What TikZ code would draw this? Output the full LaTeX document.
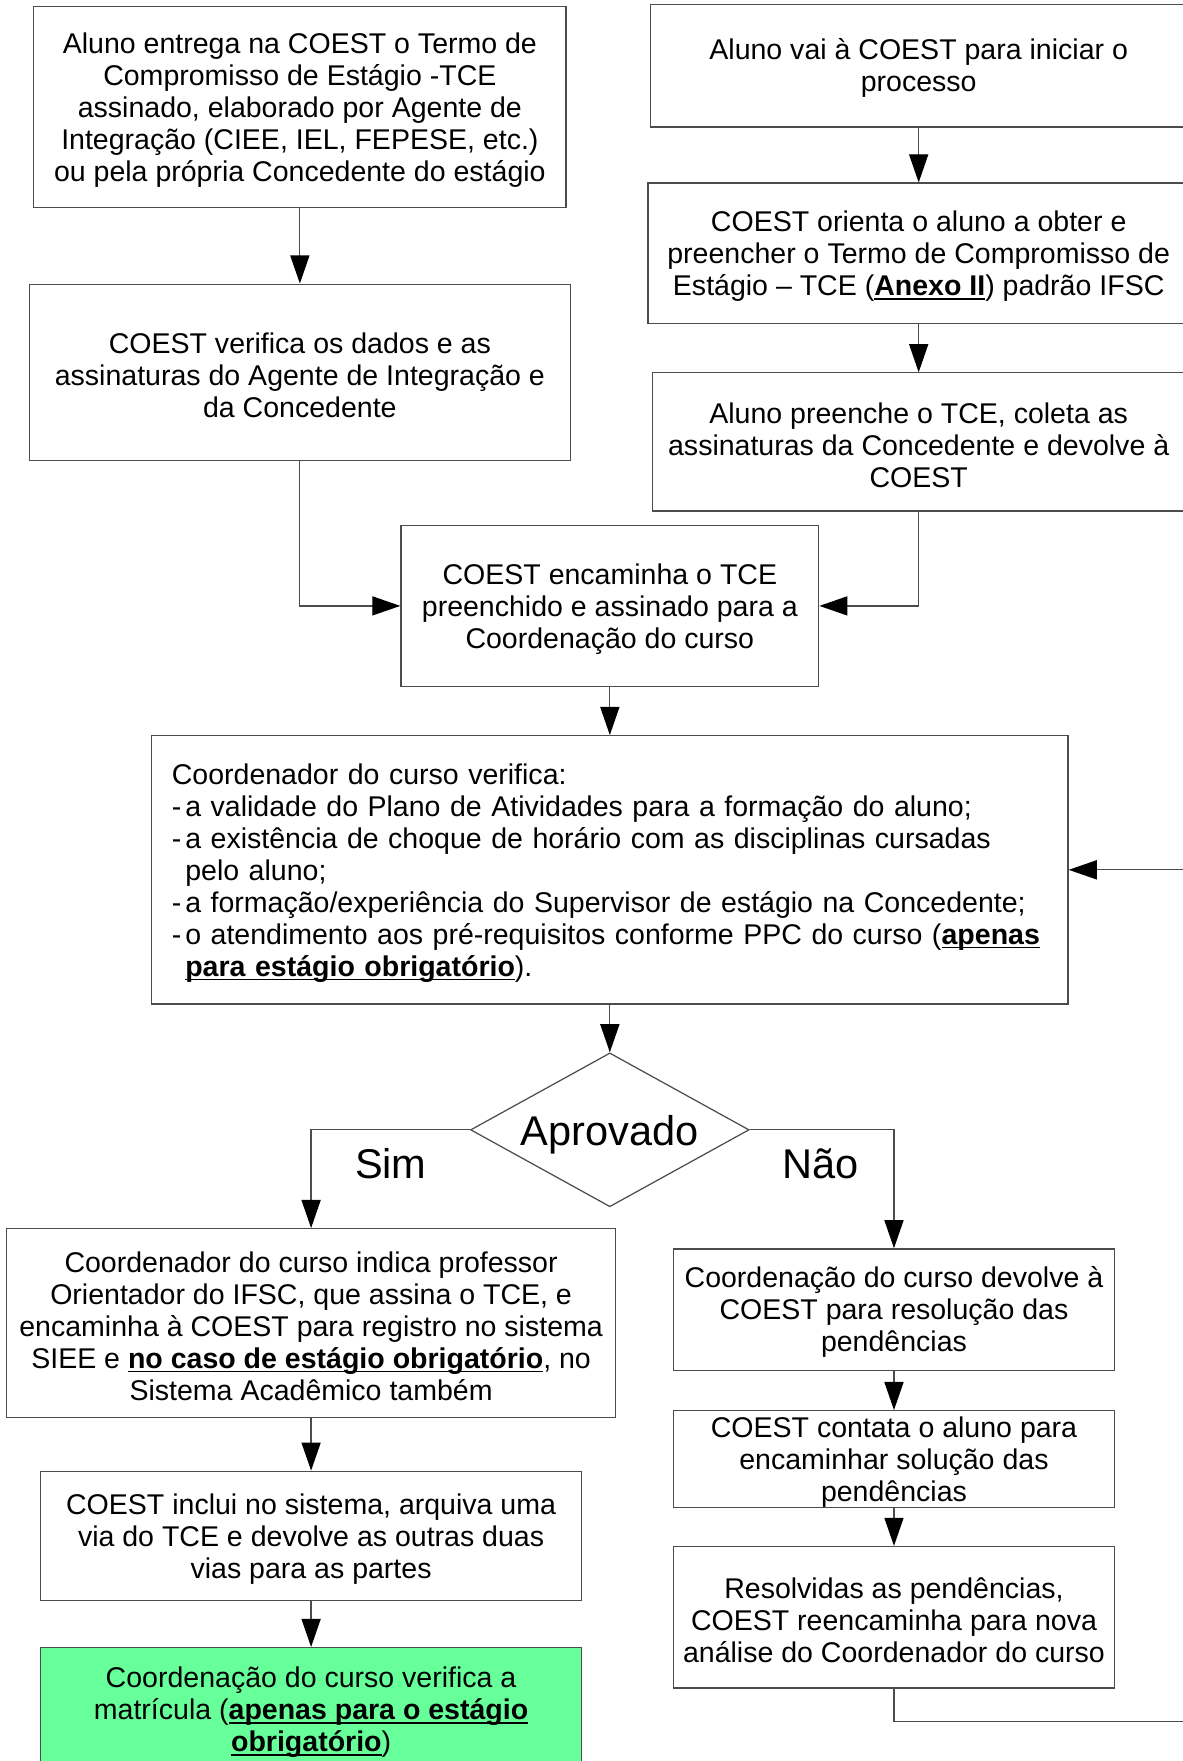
\documentclass[tikz,border=0pt]{standalone}
\usepackage{fontspec}
\setmainfont{Liberation Sans}
\usetikzlibrary{shapes.geometric,arrows.meta}
\newlength{\px}
\setlength{\px}{0.5pt}
\newsavebox{\boxdestaque}
\newcommand{\caixa}[7][]{%opts, name, x, y, width, height, text
  \node[etapa, #1, minimum width=#5*\px, minimum height=#6*\px] (#2) at (#3,#4) {\rule{0pt}{11.8pt}#7};
}
\newcommand{\traco}{\makebox[6pt][l]{-}}
\newcommand{\destaque}[1]{%bold, underlined just below the baseline
  \sbox{\boxdestaque}{\textbf{#1}}\rlap{\rule[-1.9pt]{\wd\boxdestaque}{0.7pt}}\usebox{\boxdestaque}}
\definecolor{verdeclaro}{RGB}{102,255,153}
\tikzset{
  etapa/.style={draw=black!70, line width=0.55pt, align=center, inner sep=0pt,
    font=\fontsize{12.7}{14.25}\selectfont},
  decisao/.style={diamond, aspect=1.8, draw=black!70, line width=0.55pt, inner sep=0pt,
    minimum width=248*\px, minimum height=137*\px, font=\fontsize{18.5}{20}\selectfont},
  rotulo/.style={inner sep=0pt, font=\fontsize{18.5}{20}\selectfont},
  seta/.style={draw=black!70, line width=0.55pt, -{Triangle[length=12.5pt,width=8.5pt,black]}},
}

\begin{document}
\begin{tikzpicture}[x=\px, y=-\px]
    \useasboundingbox (0,0) rectangle (1053,1568);
    %left column: TCE from Agente de Integracao
    \caixa{entrega}{267}{95.5}{474}{179}{Aluno entrega na COEST o Termo de\\
      Compromisso de Estágio -TCE\\ assinado, elaborado por Agente de\\
      Integração (CIEE, IEL, FEPESE, etc.)\\ ou pela própria Concedente do estágio}
    \caixa{verificaDados}{267}{331.5}{482}{157}{COEST verifica os dados e as\\
      assinaturas do Agente de Integração e\\ da Concedente}
    %right column: TCE padrao IFSC
    \caixa{inicio}{818}{58.5}{478}{109}{Aluno vai à COEST para iniciar o\\ processo}
    \caixa{orienta}{818}{225.5}{482}{125}{COEST orienta o aluno a obter e\\
      preencher o Termo de Compromisso de\\ Estágio – TCE (\destaque{Anexo II}) padrão IFSC}
    \caixa{preenche}{818}{393.5}{474}{123}{Aluno preenche o TCE, coleta as\\
      assinaturas da Concedente e devolve à\\ COEST}
    %both columns meet here
    \caixa{encaminha}{543}{539.5}{372}{143}{COEST encaminha o TCE\\
      preenchido e assinado para a\\ Coordenação do curso}
    \caixa[align=left, text width=390pt]{coordenador}{543}{774.5}{816}{239}{Coordenador do curso verifica:\\
      \traco a validade do Plano de Atividades para a formação do aluno;\\
      \traco a existência de choque de horário com as disciplinas cursadas\\
      \hspace*{6pt}pelo aluno;\\
      \traco a formação/experiência do Supervisor de estágio na Concedente;\\
      \traco o atendimento aos pré-requisitos conforme PPC do curso (\destaque{apenas}\\
      \hspace*{6pt}\destaque{para estágio obrigatório}).}
    %decision
    \node[decisao] (aprovado) at (543,1006) {\raisebox{-2pt}[\height][\depth]{Aprovado}};
    \node[rotulo] (sim) at (348,1036) {Sim};
    \node[rotulo] (nao) at (731,1036) {Não};
    %approved branch
    \caixa{indica}{277}{1178}{542}{168}{Coordenador do curso indica professor\\
      Orientador do IFSC, que assina o TCE, e\\ encaminha à COEST para registro no sistema\\
      SIEE e \destaque{no caso de estágio obrigatório}, no\\ Sistema Acadêmico também}
    \caixa{inclui}{277}{1367.5}{482}{115}{COEST inclui no sistema, arquiva uma\\
      via do TCE e devolve as outras duas\\ vias para as partes}
    \caixa[fill=verdeclaro]{matricula}{277}{1522}{482}{110}{Coordenação do curso verifica a\\
      matrícula (\destaque{apenas para o estágio}\\ \destaque{obrigatório})}
    %rejected branch
    \caixa{devolve}{796}{1166}{392}{108}{Coordenação do curso devolve à\\
      COEST para resolução das\\ pendências}
    \caixa{contata}{796}{1299}{392}{84}{COEST contata o aluno para\\
      encaminhar solução das\\ pendências}
    \caixa{resolvidas}{796}{1440}{392}{126}{Resolvidas as pendências,\\
      COEST reencaminha para nova\\ análise do Coordenador do curso}
    \coordinate (volta) at (1060,1533);
    %connectors
    \draw[seta] (entrega) -- (verificaDados);
    \draw[seta] (inicio) -- (orienta);
    \draw[seta] (orienta) -- (preenche);
    \draw[seta] (verificaDados.south) |- (encaminha.west);
    \draw[seta] (preenche.south) |- (encaminha.east);
    \draw[seta] (encaminha) -- (coordenador);
    \draw[seta] (coordenador) -- (aprovado);
    \draw[seta] (aprovado.west) -| (indica.north);
    \draw[seta] (aprovado.east) -| (devolve.north);
    \draw[seta] (indica) -- (inclui);
    \draw[seta] (inclui) -- (matricula);
    \draw[seta] (devolve) -- (contata);
    \draw[seta] (contata) -- (resolvidas);
    \draw[seta] (resolvidas.south) |- (volta) |- (coordenador.east);
\end{tikzpicture}
\end{document}
